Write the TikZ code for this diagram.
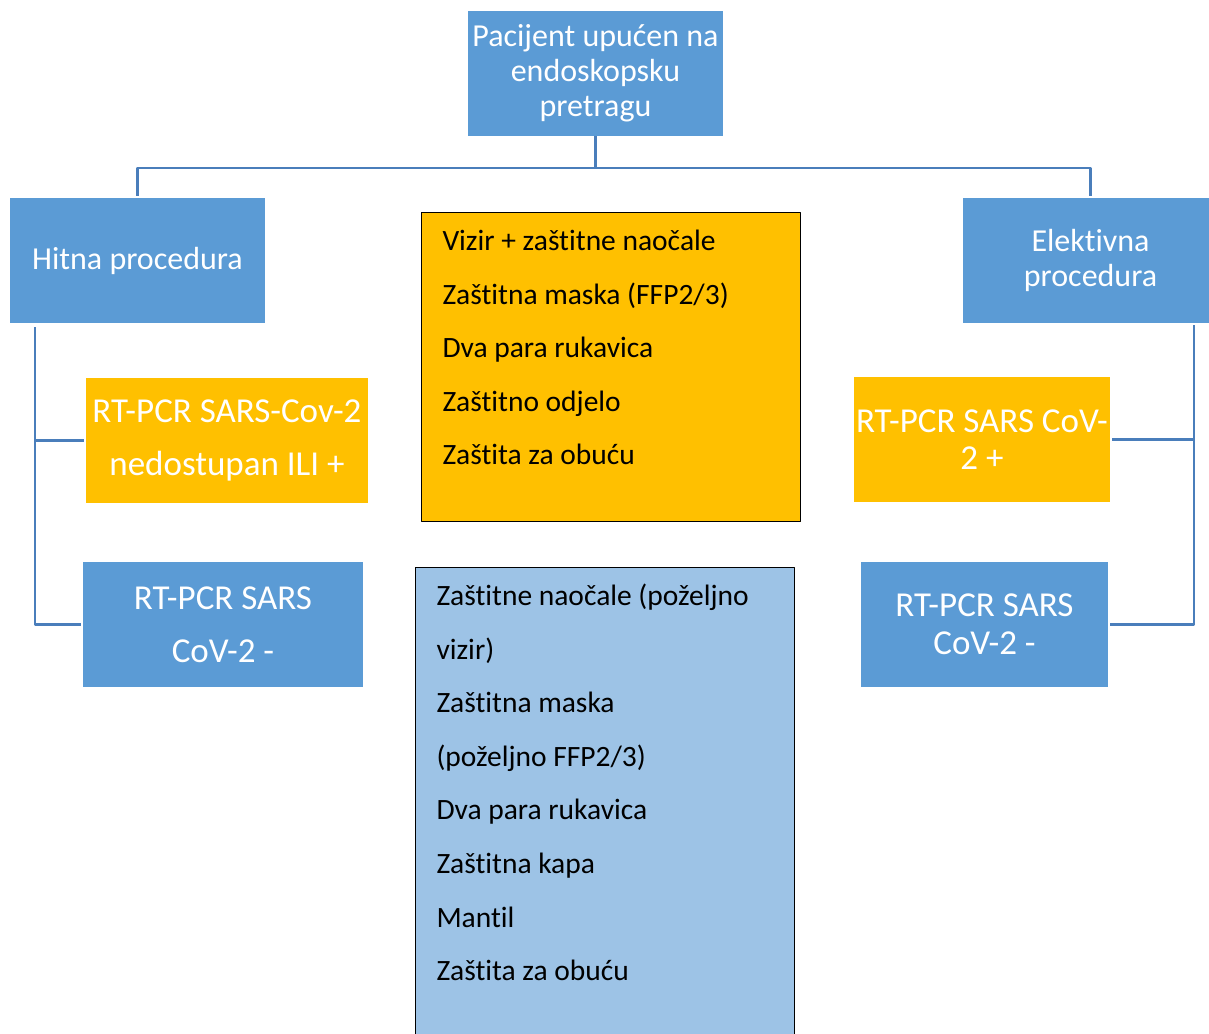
\documentclass[tikz,border=0pt]{standalone}
\usepackage{fontspec}
\setmainfont{Carlito}[Ligatures={TeX,NoCommon}]
\usetikzlibrary{positioning}

\definecolor{boxblue}{HTML}{5B9BD5}
\definecolor{boxorange}{HTML}{FFC000}
\definecolor{listblue}{HTML}{9DC3E6}
\definecolor{linkblue}{HTML}{4A7EBB}

\begin{document}
\begin{tikzpicture}[
    x=1pt, y=-1pt,
    line join=round,
    every node/.style={inner sep=0pt},
    stepbox/.style={fill=boxblue, text=white, minimum height=125pt, align=center,
        font=\fontsize{32pt}{35pt}\selectfont},
    testbox/.style={stepbox, fill=boxorange},
    bigbox/.style={font=\fontsize{35pt}{37.5pt}\selectfont},
    widebox/.style={font=\fontsize{35pt}{53pt}\selectfont},
    listbox/.style={draw=black, line width=1pt, anchor=north west, inner xsep=21pt,
        font=\fontsize{29.5pt}{53.6pt}\selectfont},
    link/.style={draw=linkblue, line width=2.5pt, shorten >=2pt}
]
\clip (0,0) rectangle (1209,1033);
\fill[white] (0,0) rectangle (1209,1033);

% Top
\node[stepbox, minimum width=255pt] (patient) at (595.5,73.5) {Pacijent upućen na\\endoskopsku\\pretragu};

% Two procedures
\node[stepbox, minimum width=255pt] (urgent) at (137.5,260.5) {Hitna procedura};
\node[stepbox, minimum width=255pt] (elective) at (1090.5,260.5) {Elektivna\\procedura};

% Left branch
\node[testbox, widebox, minimum width=282pt] (urgPos) at (227,440.5) {RT-PCR SARS-Cov-2\\nedostupan ILI +};
\node[stepbox, widebox, minimum width=280pt] (urgNeg) at (223,624.5) {RT-PCR SARS\\CoV-2 -};

% Right branch
\node[testbox, bigbox, minimum width=256pt] (elePos) at (982,439.5) {RT-PCR SARS CoV-\\2 +};
\node[stepbox, bigbox, minimum width=247pt] (eleNeg) at (984.5,624.5) {RT-PCR SARS\\CoV-2 -};

% Protective equipment
\node[listbox, fill=boxorange] (ppeFull) at (421,212) {\begin{minipage}[t][309pt][t]{337pt}
\rule{0pt}{38pt}Vizir + zaštitne naočale\\
Zaštitna maska (FFP2/3)\\
Dva para rukavica\\
Zaštitno odjelo\\
Zaštita za obuću
\end{minipage}};
\node[listbox, fill=listblue] (ppeBase) at (415,567) {\begin{minipage}[t][480pt][t]{337pt}
\rule{0pt}{38pt}Zaštitne naočale (poželjno\\
vizir)\\
Zaštitna maska\\
(poželjno FFP2/3)\\
Dva para rukavica\\
Zaštitna kapa\\
Mantil\\
Zaštita za obuću
\end{minipage}};

% Connectors
\draw[link] (patient.south) -- ++(0,32) coordinate (split) -| (urgent.north);
\draw[link] (split) -| (elective.north);

\coordinate (lbus) at (35,327);
\draw[link] (lbus) |- (urgNeg.west);
\draw[link] (lbus |- urgPos.west) -- (urgPos.west);

\coordinate (rbus) at (1194,325);
\draw[link] (rbus) |- (eleNeg.east);
\draw[link] (rbus |- elePos.east) -- (elePos.east);

\end{tikzpicture}
\end{document}
